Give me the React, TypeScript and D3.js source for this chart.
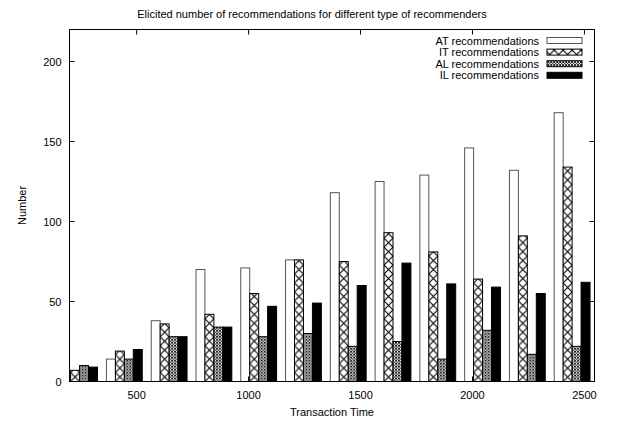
import * as d3 from "d3";
import { useEffect, useRef } from "react";

// transaction time of each group of bars
const times = [200, 400, 600, 800, 1000, 1200, 1400, 1600, 1800, 2000, 2200, 2400];

// first AT bar sits behind the y axis, its height can't be read
const atValues = [5, 14, 38, 70, 71, 76, 118, 125, 129, 146, 132, 168];
const itValues = [7, 19, 36, 42, 55, 76, 75, 93, 81, 64, 91, 134];
const alValues = [10, 14, 28, 34, 28, 30, 22, 25, 14, 32, 17, 22];
const ilValues = [9, 20, 28, 34, 47, 49, 60, 74, 61, 59, 55, 62];

const seriesNames = ["AT recommendations", "IT recommendations", "AL recommendations", "IL recommendations"];

const xTicks = [500, 1000, 1500, 2000, 2500];
const yTicks = [0, 50, 100, 150, 200];

const App = () => {
  const ref = useRef<SVGSVGElement>(null);

  useEffect(() => {
    const width = 617;
    const height = 423;
    const margin = { top: 29.5, right: 22.5, bottom: 41.5, left: 69.5 };
    const font = "'Liberation Sans', Arial, Helvetica, sans-serif";

    const svg = d3.select(ref.current);
    svg.selectAll("*").remove();

    const xScale = d3.scaleLinear().domain([200, 2545]).range([margin.left, width - margin.right]);
    const yScale = d3.scaleLinear().domain([0, 220]).range([height - margin.bottom, margin.top]);

    const barUnits = 40;
    const offsets = [-35, 5, 45, 85];
    const bw = xScale(barUnits) - xScale(0);
    const y0 = yScale(0);

    const defs = svg.append("defs");

    defs.append("clipPath").attr("id", "plot-clip")
      .append("rect")
      .attr("x", margin.left)
      .attr("y", margin.top)
      .attr("width", width - margin.left - margin.right)
      .attr("height", height - margin.top - margin.bottom);

    // big cross hatch, one X per bar width
    const big = defs.append("pattern")
      .attr("id", "xhatch")
      .attr("patternUnits", "userSpaceOnUse")
      .attr("x", xScale(200 + offsets[1]))
      .attr("y", y0)
      .attr("width", bw)
      .attr("height", bw);
    big.append("rect").attr("width", bw).attr("height", bw).attr("fill", "white");
    big.append("path")
      .attr("d", `M0,0L${bw},${bw}M${bw},0L0,${bw}`)
      .attr("stroke", "black")
      .attr("stroke-width", 1.1);

    // fine cross hatch
    const fs = bw / 3;
    const fine = defs.append("pattern")
      .attr("id", "finehatch")
      .attr("patternUnits", "userSpaceOnUse")
      .attr("x", xScale(200 + offsets[1]))
      .attr("y", y0)
      .attr("width", fs)
      .attr("height", fs);
    fine.append("rect").attr("width", fs).attr("height", fs).attr("fill", "white");
    fine.append("path")
      .attr("d", `M0,0L${fs},${fs}M${fs},0L0,${fs}`)
      .attr("stroke", "black")
      .attr("stroke-width", 0.9);

    const fills = ["white", "url(#xhatch)", "url(#finehatch)", "black"];
    const strokes = ["#555", "black", "black", "black"];
    const series = [atValues, itValues, alValues, ilValues];

    const bars = svg.append("g").attr("clip-path", "url(#plot-clip)");
    series.forEach((values, k) => {
      bars.selectAll(`rect.s${k}`)
        .data(values)
        .enter()
        .append("rect")
        .attr("class", `s${k}`)
        .attr("x", (d, i) => xScale(times[i] + offsets[k]))
        .attr("y", (d) => yScale(d))
        .attr("width", bw)
        .attr("height", (d) => y0 - yScale(d))
        .attr("fill", fills[k])
        .attr("stroke", strokes[k])
        .attr("stroke-width", 1);
    });

    // frame
    svg.append("rect")
      .attr("x", margin.left)
      .attr("y", margin.top)
      .attr("width", width - margin.left - margin.right)
      .attr("height", height - margin.top - margin.bottom)
      .attr("fill", "none")
      .attr("stroke", "black")
      .attr("stroke-width", 1);

    const tickLen = 5;
    const ticks = svg.append("g").attr("stroke", "black").attr("stroke-width", 1);
    xTicks.forEach((t) => {
      ticks.append("line").attr("x1", xScale(t)).attr("x2", xScale(t)).attr("y1", y0).attr("y2", y0 - tickLen);
      ticks.append("line").attr("x1", xScale(t)).attr("x2", xScale(t)).attr("y1", margin.top).attr("y2", margin.top + tickLen);
    });
    yTicks.forEach((t) => {
      ticks.append("line").attr("x1", margin.left).attr("x2", margin.left + tickLen).attr("y1", yScale(t)).attr("y2", yScale(t));
      ticks.append("line").attr("x1", width - margin.right).attr("x2", width - margin.right - tickLen).attr("y1", yScale(t)).attr("y2", yScale(t));
    });

    const labels = svg.append("g").attr("font-family", font).attr("font-size", "11px").attr("fill", "black");

    labels.selectAll("text.xt")
      .data(xTicks)
      .enter()
      .append("text")
      .attr("class", "xt")
      .attr("x", (d) => xScale(d))
      .attr("y", y0 + 17)
      .attr("text-anchor", "middle")
      .text((d) => d);

    labels.selectAll("text.yt")
      .data(yTicks)
      .enter()
      .append("text")
      .attr("class", "yt")
      .attr("x", margin.left - 8)
      .attr("y", (d) => yScale(d) + 4)
      .attr("text-anchor", "end")
      .text((d) => d);

    labels.append("text")
      .attr("x", (margin.left + width - margin.right) / 2)
      .attr("y", 416)
      .attr("text-anchor", "middle")
      .text("Transaction Time");

    labels.append("text")
      .attr("transform", `translate(26,${(margin.top + y0) / 2}) rotate(-90)`)
      .attr("text-anchor", "middle")
      .text("Number");

    labels.append("text")
      .attr("x", 312)
      .attr("y", 18)
      .attr("text-anchor", "middle")
      .text("Elicited number of recommendations for different type of recommenders");

    // legend
    const legend = svg.append("g");
    seriesNames.forEach((name, k) => {
      const cy = 40.5 + k * 11.6;
      legend.append("text")
        .attr("x", 539)
        .attr("y", cy + 4)
        .attr("text-anchor", "end")
        .attr("font-family", font)
        .attr("font-size", "11px")
        .text(name);
      legend.append("rect")
        .attr("x", 547)
        .attr("y", cy - 3)
        .attr("width", 35)
        .attr("height", 6)
        .attr("fill", fills[k])
        .attr("stroke", strokes[k])
        .attr("stroke-width", 1);
    });
  }, [ref]);

  return (
    <svg
      ref={ref}
      width={617}
      height={423}
      style={{ position: "absolute", left: 0, top: 0, background: "white" }}
    />
  );
};

export default App;
